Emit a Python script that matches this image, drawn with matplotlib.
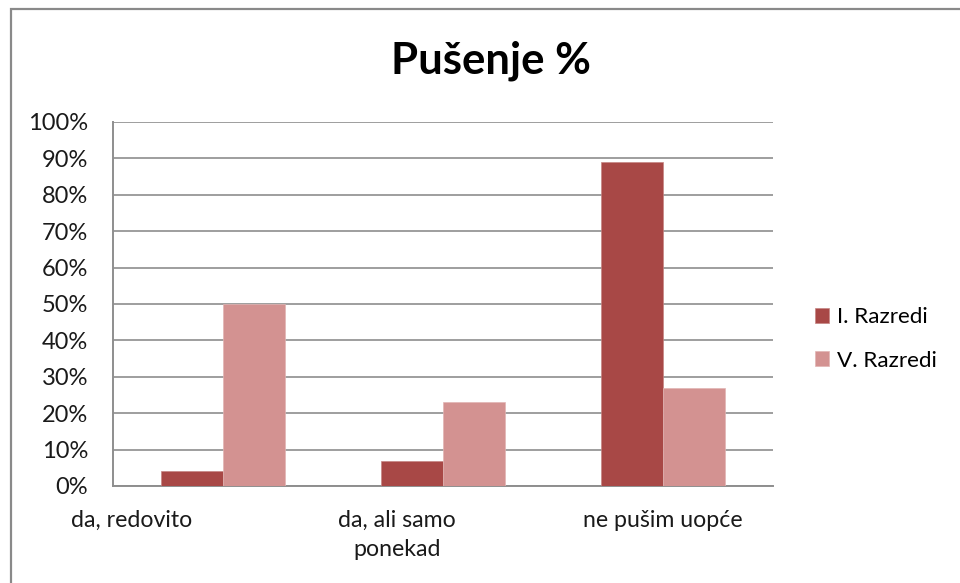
import matplotlib
matplotlib.use("Agg")
import matplotlib.pyplot as plt
from matplotlib.patches import Rectangle
from matplotlib.ticker import FuncFormatter
import numpy as np

plt.rcParams['font.family'] = ['Lato', 'DejaVu Sans']

# ---- data ----
categories = ["da, redovito", "da, ali samo\nponekad", "ne pušim uopće"]
series_names = ["I. Razredi", "V. Razredi"]
razredi_I = [4, 7, 89]
razredi_V = [50, 23, 27]
title = "Pušenje %"

# ---- style ----
col_I = "#A84846"
col_V = "#D39291"
grid_col = "#8E8E8E"
W, H = 960, 583

fig = plt.figure(figsize=(W / 100, H / 100), dpi=100)
fig.patch.set_facecolor("white")

# outer chart border (left and top visible)
fig.patches.append(Rectangle((11 / W, -0.1), 1.2, (H - 9) / H + 0.1,
                             transform=fig.transFigure, fill=False,
                             edgecolor="#898989", lw=1.6))

ax = fig.add_axes([113 / W, (H - 486) / H, 660 / W, 364 / H])
x = np.arange(len(categories))
bw = 0.284
b1 = ax.bar(x - bw / 2, razredi_I, bw, color=col_I, edgecolor="#C58583", lw=0.5,
            label=series_names[0], zorder=3)
b2 = ax.bar(x + bw / 2, razredi_V, bw, color=col_V, edgecolor="#E2B5B4", lw=0.5,
            label=series_names[1], zorder=3)

ax.set_xlim(-0.5, len(categories) - 0.5)
ax.set_ylim(0, 100)
ax.set_yticks(np.arange(0, 101, 10))
ax.yaxis.set_major_formatter(FuncFormatter(lambda v, p: f"{int(v)}%"))
ax.grid(axis="y", color=grid_col, lw=1.2, zorder=0)
ax.set_axisbelow(True)

for s in ["top", "right"]:
    ax.spines[s].set_visible(False)
for s in ["left", "bottom"]:
    ax.spines[s].set_color(grid_col)
    ax.spines[s].set_linewidth(1.4)

ax.tick_params(axis="y", length=0, pad=18, labelsize=17, colors="#1a1a1a")
ax.tick_params(axis="x", length=0, pad=17, labelsize=16.7, colors="#1a1a1a")

# category label positions (Excel-style placement)
label_pos = [-0.414, 0.79, 2.0]
ax.set_xticks(label_pos)
ax.set_xticklabels(categories, linespacing=1.5, ha="center")

fig.text(491 / W, (H - 61) / H, title, ha="center", va="center",
         fontsize=31.5, fontweight="bold", color="#000000")

fig.legend(handles=[b1, b2], labels=series_names, loc="center left",
           bbox_to_anchor=(815 / W, (H - 339) / H), frameon=False,
           fontsize=16.2, handlelength=0.62, handleheight=0.62,
           handletextpad=0.36, labelspacing=1.04, borderpad=0,
           borderaxespad=0)

fig.savefig("out.png", dpi=100, facecolor="white")
